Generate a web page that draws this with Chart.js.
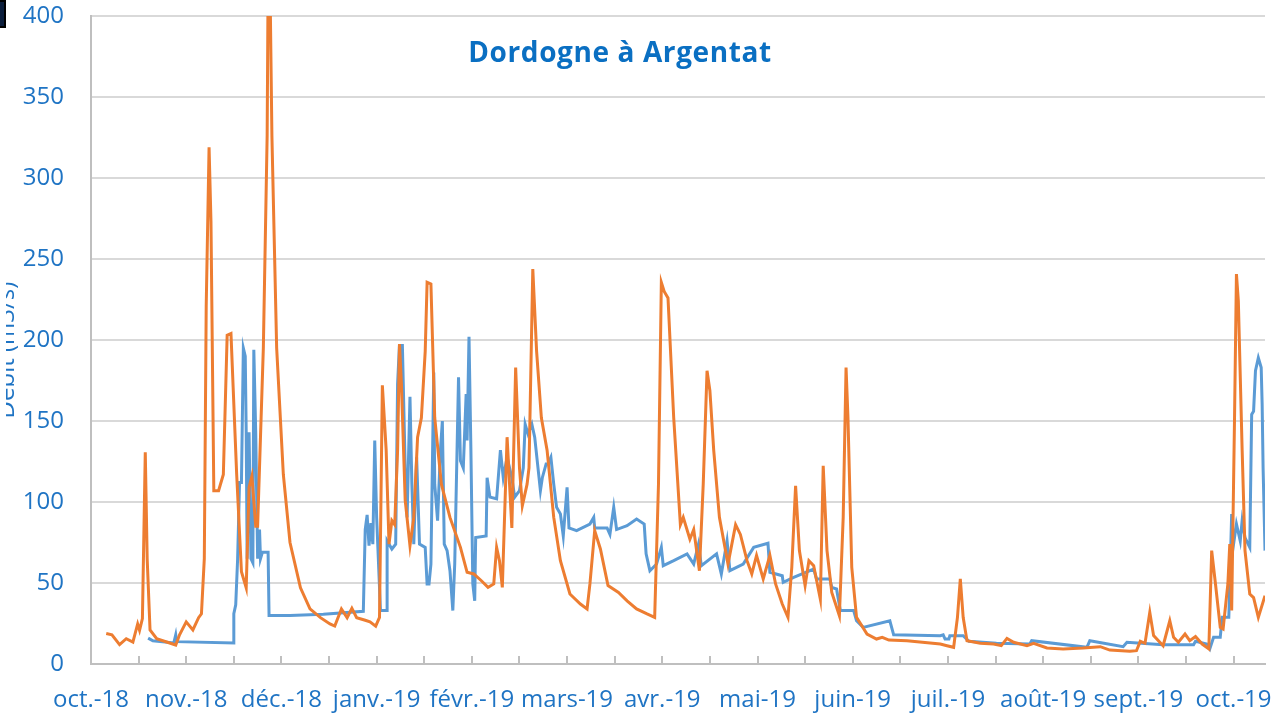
<!DOCTYPE html>
<html>
<head>
<meta charset="utf-8">
<script src="https://cdn.jsdelivr.net/npm/chart.js@4"></script>
<style>
  html, body { margin: 0; padding: 0; background: #fff; }
  #wrap { width: 1288px; height: 715px; position: relative; }
</style>
</head>
<body>
<div id="wrap"><canvas id="chart"></canvas></div>
<script>
// month labels, one per month from oct. 2018 (x = months since 1 oct. 2018)
const monthLabels = ['oct.-18', 'nov.-18', 'déc.-18', 'janv.-19', 'févr.-19', 'mars-19',
  'avr.-19', 'mai-19', 'juin-19', 'juil.-19', 'août-19', 'sept.-19', 'oct.-19'];
const yTicks = [0, 50, 100, 150, 200, 250, 300, 350, 400];

// blue series (measured flow, m3/s)
const measuredMonths = [0.60, 0.65, 0.87, 0.89, 0.90, 1.50, 1.50, 1.52, 1.54, 1.56, 1.58, 1.60, 1.62, 1.63, 1.64, 1.66, 1.68, 1.70, 1.71, 1.73, 1.75, 1.77, 1.78, 1.80, 1.86, 1.87, 2.09, 2.44, 2.86,
  2.88, 2.90, 2.92, 2.94, 2.96, 2.98, 3.00, 3.04, 3.11, 3.11, 3.16, 3.20, 3.22, 3.24, 3.26, 3.27, 3.30, 3.32, 3.35, 3.37, 3.39, 3.42, 3.45, 3.51, 3.53, 3.55, 3.57, 3.60, 3.61, 3.64, 3.67, 3.69, 3.71, 3.74, 3.77, 3.80, 3.82, 3.86, 3.88, 3.91, 3.94, 3.95, 3.97, 3.99, 4.01, 4.03, 4.04,
  4.15, 4.16, 4.19, 4.26, 4.30, 4.33, 4.37, 4.42, 4.45, 4.50, 4.54, 4.56, 4.59, 4.63, 4.66, 4.69, 4.72, 4.74, 4.78, 4.80, 4.83, 4.86, 4.89, 4.93, 4.96, 5.00, 5.02, 5.10, 5.24, 5.28, 5.29, 5.42, 5.45, 5.49, 5.52, 5.63, 5.73, 5.81, 5.83, 5.87,
  5.94, 5.99, 6.01, 6.12, 6.26, 6.33, 6.38, 6.41, 6.57, 6.62, 6.68, 6.71, 6.85, 6.96, 7.11, 7.13, 7.26, 7.27, 7.38, 7.59, 7.62, 7.76, 7.78, 7.83, 7.87, 8.01, 8.04, 8.11, 8.39, 8.43, 8.92,
  8.95, 8.97, 9.01, 9.02, 9.16, 9.22, 9.51, 9.86, 9.88, 10.46, 10.49, 10.84, 10.88, 11.26, 11.58, 11.60, 11.72, 11.75, 11.79, 11.86, 11.88, 11.95, 11.98, 12.00, 12.03, 12.07, 12.09, 12.12, 12.17, 12.19, 12.21, 12.23, 12.26, 12.29, 12.30, 12.31, 12.33];
const measuredFlow = [16, 14.3, 13, 18, 13.8, 13, 31, 36.5, 65, 112, 112, 195, 190, 143, 65, 143, 65, 62.5, 194, 143, 65, 83, 65, 69, 69, 30, 30, 30.7, 32.5,
  83, 92, 73, 87, 74, 138, 90.5, 33, 33, 76, 71, 74, 173, 197.5, 173, 197.5, 121, 90.5, 165, 111, 74, 127.6, 74, 72, 49.4, 49.4, 61.7, 180, 111, 88.5, 132, 150, 74, 70, 57.6, 33, 61.7, 177, 125.5, 121, 166.7, 138, 202, 132, 49.4, 39, 78,
  79, 115, 103, 102, 132, 115, 127.6, 115, 103, 107, 121, 148, 142, 148, 140, 123.5, 107, 115, 123.5, 123.5, 127.6, 111, 96.7, 92.6, 79, 109, 84, 82.3, 86.4, 90.5, 84, 84, 80, 96.7, 83, 85.4, 89.5, 86.4, 68, 57.6,
  61.7, 72, 60.7, 63.8, 68, 61.7, 74, 60.7, 68, 55.6, 76, 57.6, 61.7, 72, 74.5, 56.6, 54.5, 50.4, 53.5, 58.6, 52.5, 52.5, 47.3, 46.3, 33, 33, 26.7, 22.6, 26.7, 18, 17.5,
  18, 15.4, 15.4, 17.5, 17.5, 14, 12.8, 12.3, 14.4, 10.3, 14.4, 10.7, 13.4, 11.9, 11.9, 14, 12.3, 9.3, 16.5, 16.5, 28.8, 28.8, 92.6, 74, 86.4, 76, 88.5, 78, 72, 154, 156, 181, 189, 183, 160.5, 121, 70];

// orange series (simulated flow, m3/s)
const simulatedMonths = [0.16, 0.22, 0.30, 0.37, 0.44, 0.49, 0.51, 0.54, 0.57, 0.59, 0.62, 0.69, 0.89, 0.93, 1.00, 1.07, 1.13, 1.16, 1.19, 1.21, 1.24, 1.26, 1.29, 1.34, 1.39, 1.43, 1.47, 1.53, 1.58, 1.63, 1.66, 1.69, 1.73, 1.75, 1.81, 1.85, 1.86, 1.88, 1.90, 1.95, 2.02, 2.09, 2.20, 2.30, 2.41, 2.51, 2.56, 2.63, 2.69, 2.74, 2.79, 2.88, 2.93, 2.99,
  3.03, 3.06, 3.10, 3.13, 3.16, 3.19, 3.22, 3.24, 3.26, 3.30, 3.35, 3.39, 3.43, 3.47, 3.51, 3.53, 3.57, 3.61, 3.68, 3.77, 3.88, 3.95, 4.02, 4.10, 4.17, 4.23, 4.26, 4.29, 4.32, 4.37, 4.42, 4.46, 4.50, 4.53, 4.58, 4.60, 4.64, 4.68, 4.73, 4.79, 4.86, 4.93, 5.03, 5.14, 5.21, 5.24, 5.29, 5.35, 5.43, 5.54, 5.63, 5.73, 5.84, 5.92,
  5.96, 5.99, 6.02, 6.06, 6.12, 6.19, 6.22, 6.29, 6.33, 6.39, 6.43, 6.47, 6.50, 6.54, 6.60, 6.69, 6.77, 6.82, 6.89, 6.94, 6.99, 7.06, 7.13, 7.19, 7.26, 7.32, 7.36, 7.40, 7.44, 7.50, 7.54, 7.59, 7.66, 7.69, 7.73, 7.78, 7.86, 7.90, 7.93, 7.95, 7.99, 8.04, 8.15, 8.25, 8.31, 8.38, 8.57, 8.92,
  8.99, 9.06, 9.10, 9.13, 9.16, 9.20, 9.34, 9.48, 9.56, 9.62, 9.69, 9.83, 9.90, 10.04, 10.21, 10.42, 10.60, 10.70, 10.91, 10.98, 11.02, 11.07, 11.12, 11.16, 11.26, 11.33, 11.37, 11.42, 11.49, 11.54, 11.60, 11.67, 11.74, 11.77, 11.81, 11.86, 11.89, 11.94, 11.96, 11.98, 12.01, 12.03, 12.05, 12.09, 12.12, 12.17, 12.21, 12.26, 12.33];
const simulatedFlow = [18.8, 18, 12, 15.6, 13.5, 24.7, 20.8, 28, 130.7, 65, 21, 15.6, 11.7, 18, 26, 21, 28.6, 31, 65, 221, 319, 273, 107, 107, 117, 203, 204, 117, 57, 47, 109, 116, 85, 85, 195, 326, 420, 420, 326, 195, 117, 75, 47, 34, 28.6, 24.7, 23.4, 34, 28.6, 34.4, 28.6, 27, 26, 23.4,
  28.8, 172, 132, 74, 88.5, 86, 132, 197.5, 173, 101, 73, 90.5, 140, 152, 193, 235.6, 234.6, 152, 111, 90.5, 72, 56.6, 55.6, 51.4, 47.3, 49.4, 72, 63.8, 47.3, 140, 84, 183, 121, 97.7, 111, 121, 243.8, 193, 152, 132, 90.5, 63.8, 43.2, 37, 34, 49.4, 82.3, 71, 48.4, 44.2, 39, 34, 30.9, 28.8,
  111, 235.6, 230, 226, 152, 86, 90.5, 77, 83, 57.6, 111, 181, 168.7, 132, 90.5, 61.7, 86, 80, 63.8, 55.6, 67, 52.5, 67, 49.4, 37, 28.8, 59.7, 110, 70, 48.4, 63.8, 60.7, 40, 122.4, 70, 44.2, 29.8, 90.5, 183, 152, 59.7, 28.8, 18.5, 15.4, 16.5, 14.8, 14.4, 12.3,
  11.3, 10.3, 28.8, 52.5, 28.8, 14.4, 12.8, 12.3, 11.3, 15.8, 13.4, 11.3, 12.8, 9.9, 9.3, 9.9, 10.7, 8.6, 7.8, 8.2, 14, 12.8, 31.9, 17.5, 11.3, 26.7, 16.5, 13.4, 18.5, 14.4, 16.9, 12.3, 9.3, 70, 49.4, 22.6, 21.6, 49.4, 74, 33, 152, 240.7, 224, 132, 70, 43.2, 41, 28.8, 42.2];

const TEXT_BLUE = '#1F74C4';
const FONT = '"Open Sans", Lato, sans-serif';

function pairs(xs, ys) {
  return xs.map((x, i) => ({ x: x, y: ys[i] }));
}

// title, half-month tick marks, cropped y title and the corner mark
const extras = {
  id: 'extras',
  afterDraw(chart) {
    const ctx = chart.ctx;
    const area = chart.chartArea;
    const xs = chart.scales.x;
    ctx.save();
    // inside tick marks every half month
    ctx.strokeStyle = '#BFBFBF';
    ctx.lineWidth = 2;
    for (let v = 0.5; v <= xs.max; v += 0.5) {
      const px = Math.round(xs.getPixelForValue(v));
      ctx.beginPath();
      ctx.moveTo(px, area.bottom);
      ctx.lineTo(px, area.bottom - 8);
      ctx.stroke();
    }
    // title inside the plot
    ctx.fillStyle = '#0A6FC2';
    ctx.font = 'bold 28px ' + FONT;
    ctx.letterSpacing = '0.6px';
    ctx.textAlign = 'center';
    ctx.textBaseline = 'alphabetic';
    ctx.fillText('Dordogne à Argentat', 620, 62);
    ctx.restore();

    // y axis title, cut by the left edge of the picture
    ctx.save();
    ctx.beginPath();
    ctx.rect(6, 250, 20, 200);
    ctx.clip();
    ctx.fillStyle = TEXT_BLUE;
    ctx.translate(14, 350);
    ctx.rotate(-Math.PI / 2);
    ctx.font = '24px ' + FONT;
    ctx.textAlign = 'center';
    ctx.textBaseline = 'alphabetic';
    ctx.fillText('Débit (m3/s)', 0, 0);
    ctx.restore();

    // small dark mark in the corner
    ctx.save();
    ctx.fillStyle = '#000';
    ctx.fillRect(0, 0, 6, 28);
    ctx.fillStyle = '#0B1E3C';
    ctx.fillRect(0, 2, 4, 24);
    ctx.restore();
  }
};

new Chart(document.getElementById('chart'), {
  type: 'line',
  data: {
    datasets: [
      {
        label: 'simulé',
        data: pairs(simulatedMonths, simulatedFlow),
        borderColor: '#ED7D31',
        borderWidth: 3,
        pointRadius: 0,
        tension: 0
      },
      {
        label: 'mesuré',
        data: pairs(measuredMonths, measuredFlow),
        borderColor: '#5B9BD5',
        borderWidth: 3,
        pointRadius: 0,
        tension: 0
      }
    ]
  },
  options: {
    responsive: true,
    maintainAspectRatio: false,
    animation: false,
    layout: { padding: { left: 0, right: 23, top: 16, bottom: 0 } },
    plugins: {
      legend: { display: false },
      tooltip: { enabled: false }
    },
    scales: {
      x: {
        type: 'linear',
        min: 0,
        max: 12.33,
        afterBuildTicks: (axis) => { axis.ticks = monthLabels.map((l, i) => ({ value: i })); },
        afterFit: (scale) => { scale.height = 51; },
        grid: { drawOnChartArea: false, drawTicks: true, tickLength: 22, tickColor: 'rgba(0,0,0,0)' },
        border: { display: true, color: '#BFBFBF', width: 2 },
        ticks: {
          autoSkip: false,
          maxRotation: 0,
          padding: 0,
          color: TEXT_BLUE,
          font: { family: FONT, size: 24 },
          callback: (v) => monthLabels[v]
        }
      },
      y: {
        min: 0,
        max: 400,
        afterBuildTicks: (axis) => { axis.ticks = yTicks.map(v => ({ value: v })); },
        afterFit: (scale) => { scale.width = 91; },
        grid: { color: '#D9D9D9', lineWidth: 2, drawTicks: true, tickLength: 27, tickColor: 'rgba(0,0,0,0)' },
        border: { display: true, color: '#BFBFBF', width: 2 },
        ticks: {
          padding: 0,
          color: TEXT_BLUE,
          font: { family: FONT, size: 24 }
        }
      }
    }
  },
  plugins: [extras]
});
</script>
</body>
</html>
